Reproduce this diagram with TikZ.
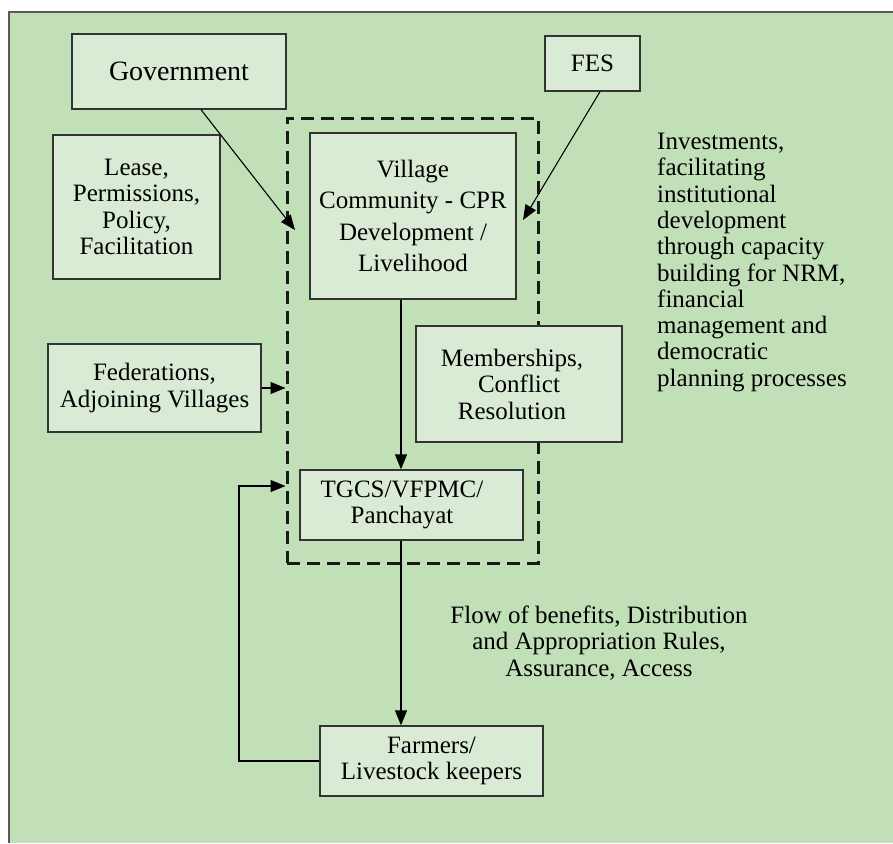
\documentclass[tikz,border=0pt]{standalone}
\usepackage{fontspec}
\setmainfont{Liberation Serif}
\usetikzlibrary{arrows.meta}
\definecolor{pagegreen}{RGB}{194,224,184}
\definecolor{boxgreen}{RGB}{217,235,213}
\definecolor{framegray}{RGB}{90,90,90}
\tikzstyle{block}=[rectangle,draw=black!80,fill=boxgreen,line width=1.3pt,align=center,inner sep=0pt,font=\fontsize{25}{26.5}\selectfont]
\tikzstyle{group}=[rectangle,draw=black!90,line width=3pt,dash pattern=on 13pt off 7pt,inner sep=0pt]
\tikzstyle{edge}=[draw,line width=1.1pt,-{Triangle[length=15pt,width=12pt]}]
\tikzstyle{note}=[inner sep=0pt,font=\fontsize{25}{26.3}\selectfont]

\begin{document}
\begin{tikzpicture}[x=1pt,y=-1pt]

    \useasboundingbox (0,0) rectangle (893,843);
    \fill[pagegreen] (9,12) rectangle (893,843);
    \draw[framegray,line width=1.5pt] (9,843) -- (9,12) -- (893,12);

    \node[group,minimum width=251pt,minimum height=445pt] (core) at (412.5,340.5) {};

    \foreach \pos/ \name/ \w/ \h/ \txt in {{(179,71.5)/gov/214/75/{\fontsize{28}{30}\selectfont Government}},
        {(136.5,207)/lease/167/144/{Lease,\\Permissions,\\Policy,\\Facilitation}},
        {(592.5,63.5)/fes/95/55/{FES}},
        {(413,216)/vil/206/166/{Village\\[5pt]Community - CPR\\[5pt]Development /\\[5pt]Livelihood}},
        {(154.5,388)/fed/213/88/{Federations,\\Adjoining Villages}},
        {(519,384)/memb/206/116/{Memberships,\hspace*{14pt}\\Conflict\hspace*{14pt}\\Resolution\hspace*{14pt}}},
        {(411.5,505)/tgcs/223/70/{TGCS/VFPMC/\hspace*{19pt}\\Panchayat\hspace*{19pt}}},
        {(431.5,761)/farm/223/70/{Farmers/\\Livestock keepers}}}
        \node[block,minimum width=\w pt,minimum height=\h pt] (\name) at \pos {\txt};

    \node[note,anchor=north west,align=left] (invest) at (657,133) {Investments,\\facilitating\\institutional\\development\\through capacity\\building for NRM,\\financial\\management and\\democratic\\planning processes};
    \node[note,align=center] (flow) at (599,643) {Flow of benefits, Distribution\\and Appropriation Rules,\\Assurance, Access};

    % free ends of the slanted arrows and the return loop
    \coordinate (govtip) at (295,230);
    \coordinate (festip) at (523,220);
    \coordinate (loop) at (239,486);

    \path[edge] ([xshift=22pt]gov.south) -- (govtip);
    \path[edge] ([xshift=7.5pt]fes.south) -- (festip);
    \path[edge] (fed.east) -- (fed.east -| core.west);
    \path[edge] ([xshift=-12pt]vil.south) -- ([xshift=-12pt]vil.south |- tgcs.north);
    \path[edge] ([xshift=-10.5pt]tgcs.south) -- ([xshift=-10.5pt]tgcs.south |- farm.north);
    \path[edge] (farm.west) -| (loop) -- (loop -| core.west);

\end{tikzpicture}
\end{document}
